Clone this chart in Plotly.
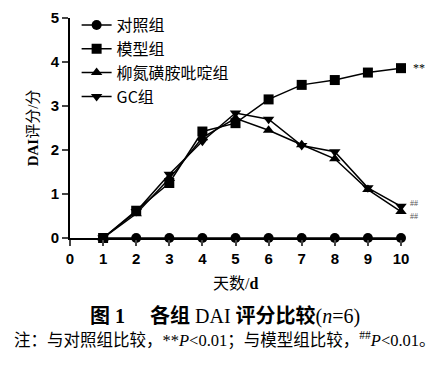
import plotly.graph_objects as go

days = [1, 2, 3, 4, 5, 6, 7, 8, 9, 10]
control = [0, 0, 0, 0, 0, 0, 0, 0, 0, 0]
model = [0, 0.62, 1.25, 2.42, 2.61, 3.15, 3.48, 3.59, 3.76, 3.86]
sasp = [0, 0.55, 1.35, 2.28, 2.72, 2.45, 2.12, 1.80, 1.10, 0.60]
gc = [0, 0.60, 1.45, 2.20, 2.84, 2.70, 2.10, 1.96, 1.14, 0.72]
names = ["对照组", "模型组", "柳氮磺胺吡啶组", "GC组"]
symbols = ["circle", "square", "triangle-up", "triangle-down"]
x_ticks = list(range(0, 11))
y_ticks = list(range(0, 6))

fig = go.Figure()
for name, vals, sym in zip(names, [control, model, sasp, gc], symbols):
    fig.add_trace(go.Scatter(
        x=days, y=vals, name=name, mode="lines+markers",
        line=dict(color="black", width=1.5),
        marker=dict(symbol=sym, size=10, color="black"),
        cliponaxis=False,
    ))

cjk = "Noto Sans CJK SC"
fig.update_layout(
    width=446, height=371,
    margin=dict(l=70, r=45, t=18, b=133, autoexpand=False),
    paper_bgcolor="white", plot_bgcolor="white",
    showlegend=True,
    legend=dict(x=0.02, y=1.045, xanchor="left", yanchor="top",
                font=dict(family=cjk, size=16, color="black"),
                bgcolor="rgba(0,0,0,0)", tracegroupgap=0, itemwidth=30),
    xaxis=dict(range=[0, 10], tickvals=x_ticks, ticks="outside", ticklen=6, tickwidth=2,
               showline=True, linecolor="black", linewidth=2, showgrid=False, zeroline=False,
               automargin=False,
               tickfont=dict(family="Liberation Sans", size=15, color="black", weight="bold")),
    yaxis=dict(range=[0, 5], tickvals=y_ticks, ticks="outside", ticklen=6, tickwidth=2,
               showline=True, linecolor="black", linewidth=2, showgrid=False, zeroline=False,
               automargin=False,
               tickfont=dict(family="Liberation Sans", size=15, color="black", weight="bold"),
               title=dict(text="<b>DAI</b>评分/分", standoff=8,
                          font=dict(family="Liberation Serif, " + cjk, size=15, color="black"))),
)
fig.add_annotation(text="**", x=10, y=3.86, xanchor="left", showarrow=False, xshift=10,
                   font=dict(family="Liberation Serif", size=12, color="black"))
fig.add_annotation(text="##", x=10, y=0.72, xanchor="left", showarrow=False, xshift=7, yshift=3,
                   font=dict(family="Liberation Serif", size=8, color="#555"))
fig.add_annotation(text="##", x=10, y=0.60, xanchor="left", showarrow=False, xshift=7, yshift=-5,
                   font=dict(family="Liberation Serif", size=8, color="#555"))
fig.add_annotation(text="天数/<b>d</b>", xref="paper", yref="paper", x=0.5, y=-0.16,
                   yanchor="top", showarrow=False,
                   font=dict(family="Liberation Serif, " + cjk, size=16, color="black"))
fig.add_annotation(text="<b>图 1　 各组</b> DAI <b>评分比较</b>(<i>n</i>=6)", xref="paper", yref="paper",
                   x=0.468, y=-0.293, yanchor="top", showarrow=False,
                   font=dict(family="Liberation Serif, " + cjk, size=20, color="black"))
fig.add_annotation(text="注：与对照组比较，**<i>P</i><0.01；与模型组比较，<sup>##</sup><i>P</i><0.01。",
                   xref="paper", yref="paper",
                   x=0.468, y=-0.405, yanchor="top", showarrow=False,
                   font=dict(family="Liberation Serif, " + cjk, size=16.5, color="black"))

fig.write_html("out.html", config={"displayModeBar": False},
               post_script="document.body.style.margin='0';document.body.style.padding='0';")
